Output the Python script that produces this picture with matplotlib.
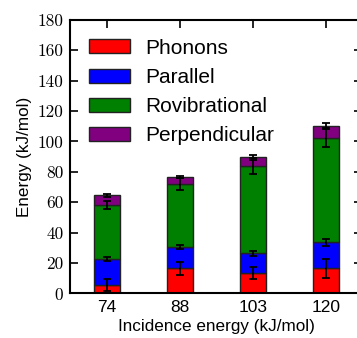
import numpy as np
import matplotlib
matplotlib.use('Agg')
import matplotlib.pyplot as plt

plt.rcParams['font.family'] = ['Liberation Sans', 'DejaVu Sans']

# incidence energies and energy partitioning (kJ/mol)
incidence = ['74', '88', '103', '120']
phonons = [5.5, 16.4, 13.2, 16.4]
parallel = [17.3, 14.1, 13.1, 17.1]
rovibrational = [35.3, 41.4, 57.4, 69.1]
perpendicular = [6.6, 4.8, 5.8, 7.7]

phonons_err = [3.7, 4.1, 3.9, 6.4]
parallel_err = [1.3, 1.6, 1.6, 2.5]
rovibrational_err = [2.7, 4.0, 5.3, 6.1]
perpendicular_err = [1.0, 0.7, 1.4, 2.0]

yticks = [0, 20, 40, 60, 80, 100, 120, 140, 160, 180]

series = [
    ("Phonons", phonons, phonons_err, "#ff0000"),
    ("Parallel", parallel, parallel_err, "#0000ff"),
    ("Rovibrational", rovibrational, rovibrational_err, "#008000"),
    ("Perpendicular", perpendicular, perpendicular_err, "#800080"),
]

fig = plt.figure(figsize=(3.57, 3.38), dpi=100)
ax = fig.add_axes([0.197, 0.132, 0.818, 0.809])

x = np.arange(len(incidence))
width = 0.35
bottom = np.zeros(len(incidence))
for name, vals, errs, col in series:
    vals = np.array(vals)
    ax.bar(x, vals, width, bottom=bottom, color=col, edgecolor='#222222',
           linewidth=1.0, label=name, zorder=2)
    bottom = bottom + vals
    ax.errorbar(x, bottom, yerr=errs, fmt='none', ecolor='black',
                elinewidth=1.3, capsize=3, capthick=1.3, zorder=3)

ax.set_xlim(-0.5, 3.5)
ax.set_ylim(0, 180)
ax.set_xticks(x, incidence, fontsize=12.5)
ax.set_yticks(yticks, [str(t) for t in yticks], fontfamily='cmr10', fontsize=12.5)
ax.tick_params(direction='in', length=6, width=1.2, top=True, right=True, pad=5)
for sp in ax.spines.values():
    sp.set_linewidth(1.5)

ax.set_xlabel('Incidence energy (kJ/mol)', fontsize=12.3, labelpad=3)
ax.set_ylabel('Energy (kJ/mol)', fontsize=12.3, labelpad=4)

ax.legend(loc='upper left', frameon=False, fontsize=15, handlelength=1.97,
          handleheight=0.67, labelspacing=0.49, handletextpad=0.72,
          borderaxespad=0.5, bbox_to_anchor=(0.0, 1.0))

fig.savefig('out.png', dpi=100)
